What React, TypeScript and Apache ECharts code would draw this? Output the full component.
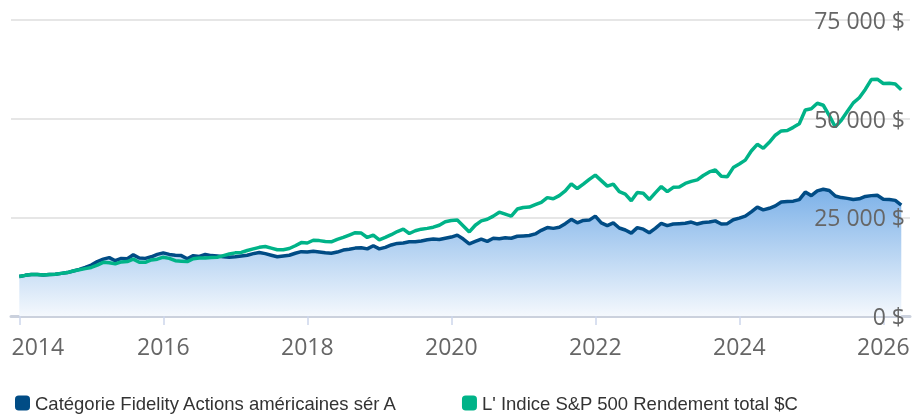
import React, { useEffect, useRef } from 'react';
import * as echarts from 'echarts';

const startYear = 2014;
const fundName = 'Catégorie Fidelity Actions américaines sér A';
const indexName = "L' Indice S&P 500 Rendement total $C";

// Monthly values of a 10 000 $ investment, Jan 2014 to Apr 2026
const fundValues = [
  10000, 10300, 10500, 10500, 10400, 10500, 10600, 10800, 11000, 11400, 11800, 12300,
  12900, 13800, 14400, 14800, 14000, 14600, 14500, 15500, 14700, 14600, 15000, 15600,
  16000, 15600, 15400, 15300, 14500, 15300, 15100, 15600, 15300, 15200, 15000, 14900,
  15000, 15200, 15400, 15800, 16100, 15800, 15400, 15000, 15200, 15400, 15900, 16300,
  16200, 16400, 16200, 16000, 15900, 16200, 16700, 16900, 17200, 17300, 17000, 17800,
  17000, 17400, 18000, 18400, 18500, 18800, 18800, 19000, 19300, 19500, 19400, 19700,
  20000, 20500, 19500, 18300, 18900, 19500, 18900, 19700, 19600, 19800, 19700, 20200,
  20300, 20400, 20800, 21700, 22400, 22200, 22500, 23400, 24500, 23600, 24200, 24300,
  25300, 23600, 22900, 23600, 22300, 21800, 21000, 22400, 22000, 21100, 22200, 23500,
  22900, 23300, 23400, 23500, 23800, 23300, 23700, 23800, 24100, 23300, 23400, 24400,
  24800, 25300, 26400, 27600, 26900, 27300, 27900, 28900, 29000, 29100, 29500, 31400,
  30500, 31700, 32100, 31800, 30400, 30000, 29800, 29500, 29700, 30300, 30500, 30600,
  29600, 29500, 29300, 28100,
];

const indexValues = [
  10000, 10300, 10500, 10500, 10400, 10500, 10600, 10800, 11000, 11400, 11700, 12000,
  12300, 12900, 13600, 13500, 13200, 13700, 13800, 14400, 13600, 13600, 14200, 14400,
  14900, 14600, 14000, 13900, 13800, 14500, 14700, 14700, 14800, 14900, 15300, 15700,
  16000, 16100, 16600, 17000, 17400, 17600, 17200, 16800, 16800, 17100, 17800, 18600,
  18500, 19200, 19100, 18900, 18800, 19400, 19900, 20500, 21100, 21000, 19900, 20500,
  19300, 19900, 20600, 21400, 22000, 20900, 21600, 22000, 22200, 22500, 23000, 23900,
  24200, 24300, 22800, 21300, 23000, 24100, 24500, 25300, 26300, 25800, 25300, 27100,
  27500, 27600, 28200, 28800, 30000, 29700, 30500, 31700, 33500, 32300, 33400, 34600,
  35700, 34300, 32900, 33400, 31500, 30900, 29200, 31300, 31100, 29500, 31200, 32800,
  31500, 32600, 32700, 33600, 34100, 34500, 35600, 36500, 37000, 35400, 35300, 37600,
  38500, 39500, 41800, 43500, 42500, 44000, 45800, 46900, 47000, 47800, 48700, 52200,
  52500, 53900, 53400, 50800, 47900, 49600, 51800, 54000, 55300, 57400, 59900, 60000,
  58900, 59000, 58800, 57300,
];

const xTickYears = [2014, 2016, 2018, 2020, 2022, 2024, 2026];
const yMin = 0;
const yMax = 75000;
const yStep = 25000;

const fundColor = '#014c85';
const indexColor = '#00b388';
const labelFont = "'Open Sans', sans-serif";

export default function App() {
  const ref = useRef<HTMLDivElement>(null);

  useEffect(() => {
    const chart = echarts.init(ref.current as HTMLDivElement, null, { renderer: 'svg' });
    const toPoints = (vals: number[]) => vals.map((v, i) => [startYear + i / 12, v]);
    const fmtMoney = (v: number) =>
      String(Math.round(v)).replace(/\B(?=(\d{3})+(?!\d))/g, ' ') + ' $';

    chart.setOption({
      animation: false,
      grid: { left: 11, right: 10, top: 20, bottom: 99, containLabel: false },
      legend: {
        data: [fundName, indexName],
        left: 10,
        top: 388,
        icon: 'roundRect',
        itemWidth: 15,
        itemHeight: 15,
        itemGap: 64,
        itemStyle: { borderWidth: 0 },
        textStyle: {
          fontFamily: "'Liberation Sans', Arial, sans-serif",
          fontSize: 18.5,
          lineHeight: 20,
          color: '#333333',
        },
      },
      xAxis: {
        type: 'value',
        min: 2013.885,
        max: 2026.371,
        splitLine: { show: false },
        axisLine: { show: true, onZero: false, lineStyle: { color: '#cbd1dd', width: 3 } },
        axisTick: {
          show: true,
          customValues: xTickYears,
          length: 9,
          lineStyle: { color: '#ccd6eb', width: 1.5 },
        },
        axisLabel: {
          customValues: xTickYears,
          formatter: (v: number) => (v === xTickYears[0] ? `{first|${v}}` : String(v)),
          color: '#666666',
          fontSize: 23,
          fontFamily: labelFont,
          margin: 18,
          rich: {
            first: { padding: [0, 0, 0, 37], fontSize: 23, color: '#666666', fontFamily: labelFont },
          },
        },
      },
      yAxis: [
        {
          type: 'value',
          position: 'right',
          min: yMin,
          max: yMax,
          interval: yStep,
          axisLine: { show: false },
          axisTick: { show: false },
          axisLabel: { show: false },
          splitLine: { lineStyle: { color: '#e6e6e6', width: 2 } },
        },
        {
          type: 'value',
          position: 'right',
          min: yMin,
          max: yMax,
          interval: yStep,
          z: 5,
          axisLine: { show: false },
          axisTick: { show: false },
          splitLine: { show: false },
          axisLabel: {
            inside: true,
            margin: 5,
            formatter: fmtMoney,
            color: '#666666',
            fontSize: 23,
            fontFamily: labelFont,
          },
        },
      ],
      series: [
        {
          name: fundName,
          type: 'line',
          yAxisIndex: 0,
          data: toPoints(fundValues),
          symbol: 'none',
          showSymbol: false,
          color: fundColor,
          lineStyle: { color: fundColor, width: 3.5 },
          itemStyle: { color: fundColor },
          areaStyle: {
            color: new echarts.graphic.LinearGradient(0, 0, 0, 1, [
              { offset: 0, color: '#7cb1e8' },
              { offset: 1, color: '#f4f8fd' },
            ]),
            opacity: 1,
          },
          z: 2,
        },
        {
          name: indexName,
          type: 'line',
          yAxisIndex: 0,
          data: toPoints(indexValues),
          symbol: 'none',
          showSymbol: false,
          color: indexColor,
          lineStyle: { color: indexColor, width: 3.5 },
          itemStyle: { color: indexColor },
          z: 3,
        },
      ],
    });

    return () => chart.dispose();
  }, []);

  return (
    <div
      ref={ref}
      style={{ position: 'fixed', left: 0, top: 0, width: 920, height: 415 }}
    />
  );
}
